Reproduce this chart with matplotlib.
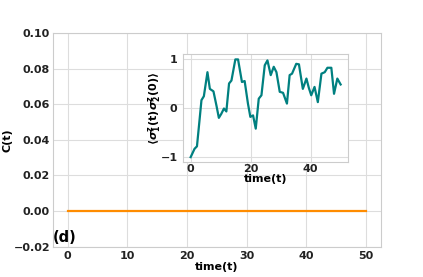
import matplotlib
matplotlib.use("Agg")
import matplotlib.pyplot as plt

# main panel: C(t) stays at zero
t_main = [0, 50]
c_main = [0.0, 0.0]

# inset: <sigma_1^z(t) sigma_2^z(0)>
t_in = [0.0, 1.3, 2.1, 3.0, 3.6, 4.4, 5.6, 6.4, 7.6, 8.6, 9.4, 10.2, 11.1, 11.9,
        12.8, 13.6, 14.9, 15.8, 17.1, 18.0, 19.1, 19.9, 20.8, 21.7, 22.7, 23.6,
        24.7, 25.6, 26.7, 27.7, 28.6, 29.7, 30.8, 32.1, 33.0, 33.8, 35.2, 36.1,
        37.4, 38.6, 39.4, 40.2, 41.3, 42.4, 43.6, 44.7, 45.6, 46.9, 47.8, 48.9, 50.0]
s_in = [-1.0, -0.83, -0.78, -0.22, 0.16, 0.24, 0.73, 0.39, 0.34, 0.05, -0.2, -0.12,
        -0.01, -0.07, 0.5, 0.56, 0.99, 0.99, 0.53, 0.55, 0.09, -0.18, -0.15, -0.42,
        0.19, 0.26, 0.87, 0.97, 0.67, 0.84, 0.73, 0.33, 0.31, 0.09, 0.67, 0.7, 0.9,
        0.89, 0.39, 0.6, 0.41, 0.26, 0.43, 0.12, 0.7, 0.73, 0.82, 0.82, 0.29, 0.6, 0.48]

plt.rcParams["font.family"] = "DejaVu Sans"
plt.rcParams["font.weight"] = "bold"
plt.rcParams["axes.labelweight"] = "bold"
plt.rcParams["font.size"] = 8
plt.rcParams["mathtext.default"] = "bf"


def style(ax, xpad, ypad):
    ax.set_facecolor("white")
    ax.grid(True, color="#dddddd", linewidth=0.8)
    ax.set_axisbelow(True)
    for s in ax.spines.values():
        s.set_color("#cccccc")
        s.set_linewidth(0.8)
    ax.tick_params(length=0, labelsize=8, colors="#222222")
    ax.tick_params(axis="x", pad=xpad)
    ax.tick_params(axis="y", pad=ypad)


fig = plt.figure(figsize=(4.23, 2.77), dpi=100)
ax = fig.add_subplot(111)
style(ax, 3, 2)
ax.plot(t_main, c_main, color="#ff8c00", linewidth=1.6)
ax.set_ylim(-0.02, 0.10)
ax.set_xticks([0, 10, 20, 30, 40, 50])
ax.set_xlabel("time(t)", labelpad=1)
ax.set_ylabel("C(t)", labelpad=0.5)
ax.text(0.0, 0.02, "(d)", transform=ax.transAxes, fontsize=10.5, fontweight="bold")

ins = fig.add_axes([0.433, 0.415, 0.39, 0.39])
style(ins, 1.5, 4)
ins.plot(t_in, s_in, color="#008080", linewidth=1.6)
ins.set_xlim(-2.5, 52.5)
ins.set_ylim(-1.1, 1.1)
ins.set_yticks([-1, 0, 1])
ins.set_xticks([0, 20, 40])
ins.set_xlabel("time(t)", labelpad=0)
ins.set_ylabel(r"$\langle\boldsymbol{\sigma}_1^z(t)\boldsymbol{\sigma}_2^z(0)\rangle$", labelpad=-1.5)

fig.savefig("out.png", dpi=100)
